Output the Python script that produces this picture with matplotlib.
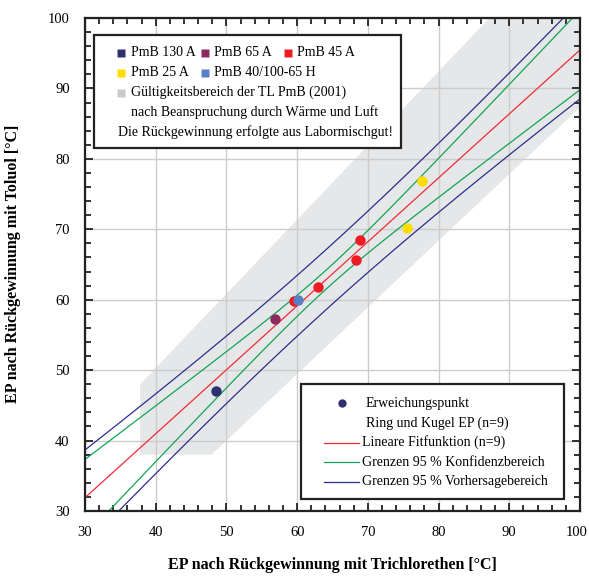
import numpy as np
import matplotlib
matplotlib.use("Agg")
import matplotlib.pyplot as plt
import matplotlib.transforms as mtransforms
from matplotlib.patches import Polygon, Rectangle
from matplotlib.lines import Line2D

plt.rcParams['font.family'] = ['Liberation Serif', 'DejaVu Serif']

# ---------------- data ----------------
series_names = ["PmB 130 A", "PmB 65 A", "PmB 45 A", "PmB 25 A", "PmB 40/100-65 H"]
series_colors = ["#2e3070", "#8e2a5f", "#ed1c24", "#ffdd00", "#5b7fc6"]
pmb130_x = [48.5]
pmb130_y = [47.0]
pmb65_x = [56.85]
pmb65_y = [57.2]
pmb45_x = [59.5, 62.9, 68.3, 68.9]
pmb45_y = [59.8, 61.8, 65.7, 68.5]
pmb25_x = [77.7, 75.6]
pmb25_y = [76.85, 70.2]
pmb40_x = [60.1]
pmb40_y = [60.0]

# Gültigkeitsbereich der TL PmB (polygon vertices)
zone_x = [37.8, 37.8, 87.2, 100.0, 100.0, 47.9]
zone_y = [38.0, 48.0, 100.0, 100.0, 87.3, 38.0]

x_ticks = [30, 40, 50, 60, 70, 80, 90, 100]
y_ticks = [30, 40, 50, 60, 70, 80, 90, 100]
t_975_df7 = 2.3646

# ---------------- figure ----------------
W, H = 589, 576
fig = plt.figure(figsize=(W / 100, H / 100), dpi=100)
ax = fig.add_axes([85 / W, 1 - 511 / H, (580 - 85) / W, (511 - 18) / H])

def px(x, y):
    return (x / W, 1 - y / H)

ax.add_patch(Polygon(list(zip(zone_x, zone_y)), closed=True,
                     facecolor="#e6e7e8", edgecolor="none", zorder=0.5))

# regression from all points
all_x = np.array(pmb130_x + pmb65_x + pmb45_x + pmb25_x + pmb40_x)
all_y = np.array(pmb130_y + pmb65_y + pmb45_y + pmb25_y + pmb40_y)
n = len(all_x)
slope, icpt = np.polyfit(all_x, all_y, 1)
res = all_y - (icpt + slope * all_x)
s = np.sqrt(np.sum(res ** 2) / (n - 2))
xm = all_x.mean()
sxx = np.sum((all_x - xm) ** 2)
xg = np.linspace(28, 102, 300)
yfit = icpt + slope * xg
ci = t_975_df7 * s * np.sqrt(1 / n + (xg - xm) ** 2 / sxx)
pi = t_975_df7 * s * np.sqrt(1 + 1 / n + (xg - xm) ** 2 / sxx)

red_c, green_c, blue_c = "#ee2d35", "#12a555", "#2b2f8f"
lw = 0.9
ax.plot(xg, yfit, color=red_c, lw=lw, zorder=2)
ax.plot(xg, yfit + ci, color=green_c, lw=lw, zorder=2)
ax.plot(xg, yfit - ci, color=green_c, lw=lw, zorder=2)
ax.plot(xg, yfit + pi, color=blue_c, lw=lw, zorder=2)
ax.plot(xg, yfit - pi, color=blue_c, lw=lw, zorder=2)

ms = 7.5
for xs, ys, c in [(pmb130_x, pmb130_y, series_colors[0]),
                  (pmb65_x, pmb65_y, series_colors[1]),
                  (pmb45_x, pmb45_y, series_colors[2]),
                  (pmb25_x, pmb25_y, series_colors[3]),
                  (pmb40_x, pmb40_y, series_colors[4])]:
    ax.plot(xs, ys, 'o', color=c, ms=ms, mec='none', zorder=3)

ax.set_xlim(30, 100)
ax.set_ylim(30, 100)
ax.set_xticks(x_ticks)
ax.set_yticks(y_ticks)
ax.set_xticks(np.arange(30, 101, 2), minor=True)
ax.set_yticks(np.arange(30, 101, 2), minor=True)
ax.grid(True, which='major', color="#cccccc", lw=1.0, zorder=1)
ax.tick_params(which='both', direction='in', top=True, right=True, width=1.3, color='#222222')
ax.tick_params(which='major', length=6, labelsize=10.5, pad=11)
ax.tick_params(which='minor', length=4)
for sp in ax.spines.values():
    sp.set_linewidth(1.6)
    sp.set_color('#222222')
    sp.set_zorder(5)

# nudge the last x tick label so it stays inside the canvas
last_lbl = ax.get_xticklabels()[-1]
last_lbl.set_transform(last_lbl.get_transform() +
                       mtransforms.ScaledTranslation(-3 / 100, 0, fig.dpi_scale_trans))

fig.text(*px(332, 565), "EP nach Rückgewinnung mit Trichlorethen [°C]",
         ha='center', va='center', fontsize=11.5, fontweight='bold')
fig.text(*px(13, 264), "EP nach Rückgewinnung mit Toluol [°C]",
         ha='center', va='center', fontsize=11.5, fontweight='bold', rotation=90)

# ---------- top legend box ----------
x0, y0, x1, y1 = 94, 35, 401, 148
fig.patches.append(Rectangle(px(x0, y1), (x1 - x0) / W, (y1 - y0) / H,
                             transform=fig.transFigure, facecolor='white',
                             edgecolor='#222222', lw=1.6, zorder=10))
fs = 10
def sq(x, y, c):
    fig.add_artist(Line2D([x / W], [1 - y / H], marker='s', ms=6, color=c,
                          mec='none', ls='none', transform=fig.transFigure, zorder=11))
def tx(x, y, t):
    fig.text(*px(x, y), t, ha='left', va='center', fontsize=fs, zorder=11)

sq(121, 52.5, series_colors[0]); tx(131, 52.5, series_names[0])
sq(205, 52.5, series_colors[1]); tx(214, 52.5, series_names[1])
sq(288, 52.5, series_colors[2]); tx(297, 52.5, series_names[2])
sq(121, 72.5, series_colors[3]); tx(131, 72.5, series_names[3])
sq(205, 72.5, series_colors[4]); tx(214, 72.5, series_names[4])
sq(121, 92.5, "#c9cacc"); tx(131, 92.5, "Gültigkeitsbereich der TL PmB (2001)")
tx(131, 112.5, "nach Beanspruchung durch Wärme und Luft")
tx(118, 132.5, "Die Rückgewinnung erfolgte aus Labormischgut!")

# ---------- bottom legend box ----------
x0, y0, x1, y1 = 301, 384, 564, 499
fig.patches.append(Rectangle(px(x0, y1), (x1 - x0) / W, (y1 - y0) / H,
                             transform=fig.transFigure, facecolor='white',
                             edgecolor='#222222', lw=1.6, zorder=10))
fig.add_artist(Line2D([342 / W], [1 - 403 / H], marker='o', ms=6, color=series_colors[0],
                      mec='none', ls='none', transform=fig.transFigure, zorder=11))
tx(366, 403, "Erweichungspunkt")
tx(366, 423, "Ring und Kugel EP (n=9)")
for yy, c, t in [(442.5, red_c, "Lineare Fitfunktion (n=9)"),
                 (462, green_c, "Grenzen 95 % Konfidenzbereich"),
                 (481.5, blue_c, "Grenzen 95 % Vorhersagebereich")]:
    fig.add_artist(Line2D([324 / W, 359 / W], [1 - yy / H, 1 - yy / H], color=c, lw=lw,
                          transform=fig.transFigure, zorder=11))
    tx(362, yy, t)

fig.savefig("out.png", dpi=100)
